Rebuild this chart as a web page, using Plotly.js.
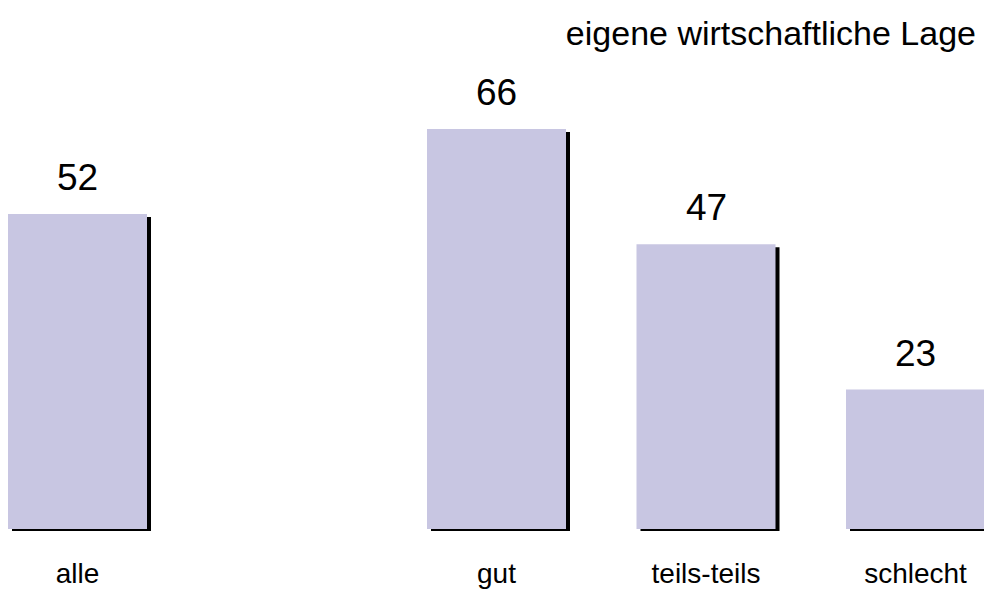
<!DOCTYPE html>
<html>
<head>
<meta charset="utf-8">
<script src="https://cdn.plot.ly/plotly-3.0.1.min.js"></script>
<style>html,body{margin:0;padding:0;background:#fff;}#chart{width:984px;height:590px;}</style>
</head>
<body>
<div id="chart"></div>
<script>
// Data
const categories = ['alle', 'gut', 'teils-teils', 'schlecht'];
const positions = [0, 2, 3, 4];
const values = [52, 66, 47, 23];
const valueLabels = ['52', '66', '47', '23'];
const chartTitle = 'eigene wirtschaftliche Lage';

// Geometry helpers (pixel → data units)
const W = 984, H = 590;
const pxPerX = 209.5;
const pxPerY = 6.06;
const xmin = -77.5 / pxPerX;
const xmax = xmin + W / pxPerX;
const marginB = 59;
const plotH = H - marginB;
const ymin = -2 / pxPerY;
const ymax = ymin + plotH / pxPerY;
const barW = 139 / pxPerX;
const shadowDx = 4 / pxPerX;
const shadowDrop = 3 / pxPerY;
const shadowBase = ymin;

const font = 'Liberation Sans, Arial, Helvetica, sans-serif';

const shadow = {
  type: 'bar',
  x: positions,
  y: values.map(v => (v - shadowDrop) - shadowBase),
  base: shadowBase,
  width: barW,
  offset: -barW / 2 + shadowDx,
  marker: {color: '#000000', line: {width: 0}},
  hoverinfo: 'skip',
  showlegend: false
};
const bars = {
  type: 'bar',
  x: positions,
  y: values,
  width: barW,
  offset: -barW / 2,
  marker: {color: '#C8C6E2', line: {width: 0}},
  showlegend: false
};

const annotations = positions.map((p, i) => ({
  x: p, y: values[i], xref: 'x', yref: 'y',
  text: valueLabels[i], showarrow: false,
  yanchor: 'bottom', xanchor: 'center', yshift: 14,
  font: {family: font, size: 37, color: '#000'}
}));

const layout = {
  width: W, height: H,
  margin: {l: 0, r: 0, t: 0, b: marginB, pad: 0},
  paper_bgcolor: '#fff', plot_bgcolor: '#fff',
  barmode: 'overlay',
  showlegend: false,
  title: {
    text: chartTitle,
    xref: 'container', yref: 'container',
    x: 976 / W, xanchor: 'right',
    y: 1 - 21 / H, yanchor: 'top',
    font: {family: font, size: 34, color: '#000'}
  },
  xaxis: {
    range: [xmin, xmax],
    tickmode: 'array', tickvals: positions, ticktext: categories,
    showgrid: false, zeroline: false, showline: false, ticks: '',
    tickfont: {family: font, size: 28, color: '#000'},
    ticklabelstandoff: 23,
    fixedrange: true
  },
  yaxis: {
    range: [ymin, ymax],
    showgrid: false, zeroline: false, showline: false,
    showticklabels: false, ticks: '', fixedrange: true
  },
  annotations: annotations
};

Plotly.newPlot('chart', [shadow, bars], layout, {displayModeBar: false, staticPlot: true});
</script>
</body>
</html>
